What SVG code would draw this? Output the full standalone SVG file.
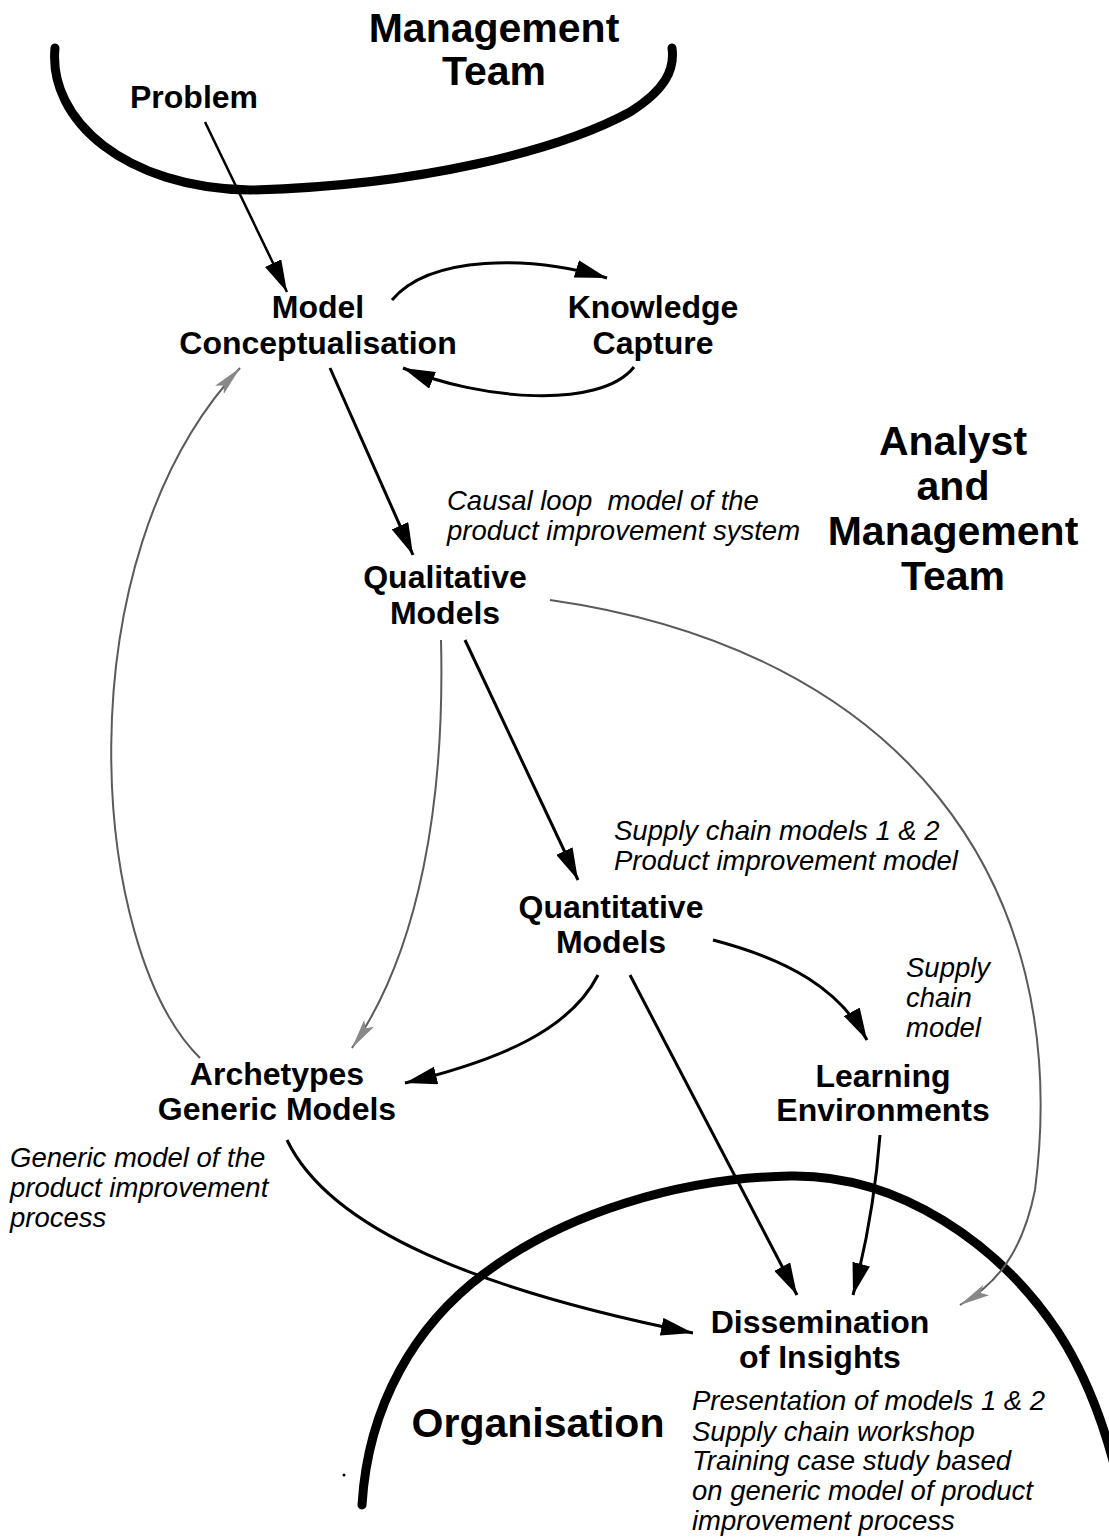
<svg xmlns="http://www.w3.org/2000/svg" width="1109" height="1540" viewBox="0 0 1109 1540">
<style>
.n{font-family:"Liberation Sans",Arial,sans-serif;font-weight:bold;font-size:32px;fill:#000;text-anchor:middle}
.big{font-family:"Liberation Sans",Arial,sans-serif;font-weight:bold;font-size:41px;fill:#000;text-anchor:middle}
.i{font-family:"Liberation Sans",Arial,sans-serif;font-style:italic;font-size:27.5px;fill:#000}
.c{fill:none;stroke:#000;stroke-width:3;marker-end:url(#ah)}
.g{fill:none;stroke:#5a5a5a;stroke-width:2;marker-end:url(#gh)}
.b{fill:none;stroke:#000;stroke-width:9;stroke-linecap:round}
</style>
<defs>
<marker id="ah" viewBox="0 0 32 18" refX="32" refY="9" markerWidth="32" markerHeight="18" markerUnits="userSpaceOnUse" orient="auto">
<path d="M0,0 L32,9 L0,18 z" fill="#000"/>
</marker>
<marker id="gh" viewBox="0 0 30 16" refX="30" refY="8" markerWidth="30" markerHeight="16" markerUnits="userSpaceOnUse" orient="auto">
<path d="M0,2 L30,8 L0,14 L6,8 z" fill="#888"/>
</marker>
</defs>
<rect width="1109" height="1540" fill="#fff"/>

<g id="boundaries">
<path class="b" d="M55,48 C48,120 125,188 250,190 C420,186 560,150 630,112 C665,90 675,70 672,48"/>
<path class="b" d="M362,1505 C368,1405 415,1325 485,1273 C565,1213 680,1178 790,1176 C900,1174 1000,1245 1058,1332 C1084,1372 1104,1422 1118,1480"/>
<circle cx="344" cy="1475" r="1.5" fill="#000"/>
</g>

<g id="connectors">
<path class="c" style="stroke-width:2.5" d="M205,122 L287,292"/>
<path class="c" d="M392,300 C430,255 530,255 607,278"/>
<path class="c" d="M634,367 C600,410 480,400 403,368"/>
<path class="c" d="M330,368 L413,555"/>
<path class="c" d="M465,640 L578,880"/>
<path class="g" d="M441,640 C445,800 420,950 352,1048"/>
<path class="g" d="M200,1058 C90,950 60,560 240,368"/>
<path class="g" d="M550,600 C900,650 1075,880 1035,1190 C1022,1255 995,1285 960,1305"/>
<path class="c" d="M598,975 C570,1030 500,1060 405,1083"/>
<path class="c" d="M713,940 C790,960 840,990 867,1040"/>
<path class="c" d="M630,975 L797,1295"/>
<path class="c" d="M880,1135 C875,1200 865,1250 853,1295"/>
<path class="c" d="M287,1140 C330,1230 480,1290 693,1333"/>
</g>

<g id="management-team"><text class="big" x="494" y="42">Management</text><text class="big" x="494" y="85">Team</text></g>
<g id="problem"><text class="n" x="194" y="108">Problem</text></g>
<g id="model-conceptualisation"><text class="n" x="318" y="318">Model</text><text class="n" x="318" y="354">Conceptualisation</text></g>
<g id="knowledge-capture"><text class="n" x="653" y="318">Knowledge</text><text class="n" x="653" y="354">Capture</text></g>
<g id="analyst-team"><text class="big" x="953" y="455">Analyst</text><text class="big" x="953" y="500">and</text><text class="big" x="953" y="545">Management</text><text class="big" x="953" y="590">Team</text></g>
<g id="causal-label"><text class="i" x="447" y="510" xml:space="preserve">Causal loop  model of the</text><text class="i" x="447" y="540">product improvement system</text></g>
<g id="qualitative-models"><text class="n" x="445" y="588">Qualitative</text><text class="n" x="445" y="624">Models</text></g>
<g id="supply-label"><text class="i" x="614" y="840">Supply chain models 1 &amp; 2</text><text class="i" x="614" y="870">Product improvement model</text></g>
<g id="quantitative-models"><text class="n" x="611" y="918">Quantitative</text><text class="n" x="611" y="953">Models</text></g>
<g id="supply-chain-model-label"><text class="i" x="906" y="977">Supply</text><text class="i" x="906" y="1007">chain</text><text class="i" x="906" y="1037">model</text></g>
<g id="learning-environments"><text class="n" x="883" y="1087">Learning</text><text class="n" x="883" y="1121">Environments</text></g>
<g id="archetypes"><text class="n" x="277" y="1085">Archetypes</text><text class="n" x="277" y="1120">Generic Models</text></g>
<g id="generic-label"><text class="i" x="10" y="1167">Generic model of the</text><text class="i" x="10" y="1197">product improvement</text><text class="i" x="10" y="1227">process</text></g>
<g id="dissemination"><text class="n" x="820" y="1333">Dissemination</text><text class="n" x="820" y="1368">of Insights</text></g>
<g id="organisation"><text class="big" x="538" y="1437">Organisation</text></g>
<g id="dissemination-label"><text class="i" x="692" y="1410">Presentation of models 1 &amp; 2</text><text class="i" x="692" y="1441">Supply chain workshop</text><text class="i" x="692" y="1470">Training case study based</text><text class="i" x="692" y="1500">on generic model of product</text><text class="i" x="692" y="1530">improvement process</text></g>
</svg>
